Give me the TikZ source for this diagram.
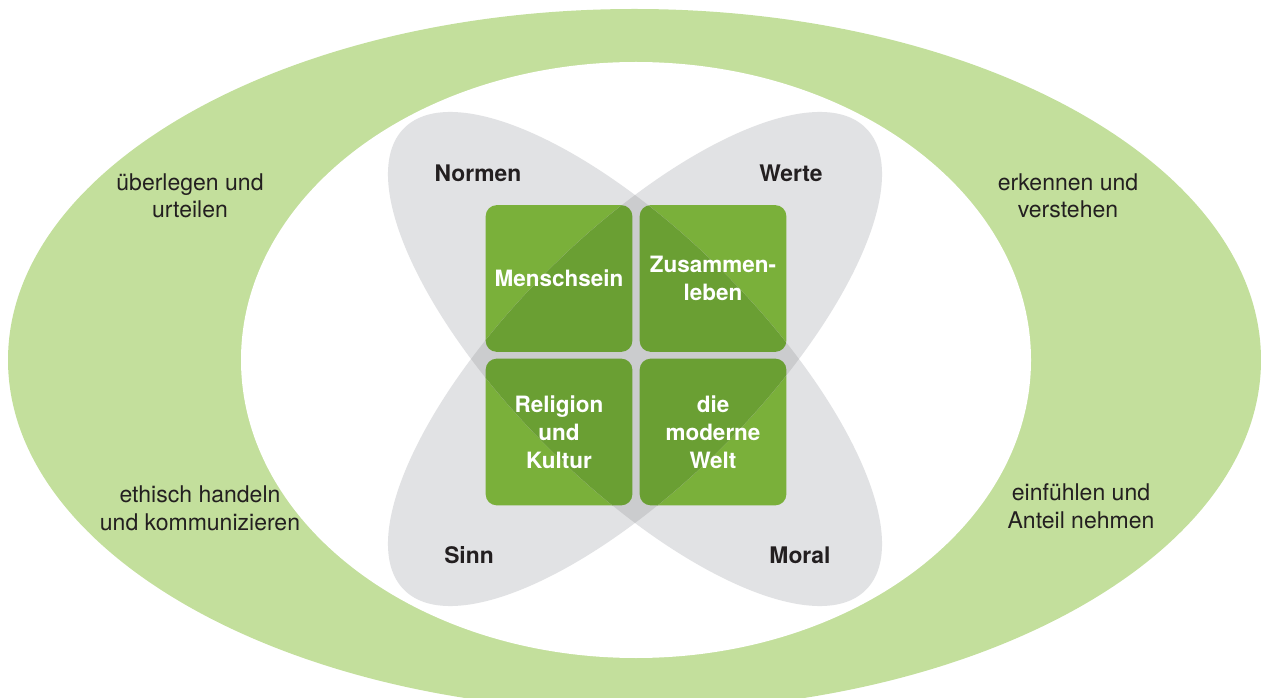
\documentclass[tikz,border=0pt]{standalone}
\usepackage{fontspec}
\setmainfont{TeX Gyre Heros}
\usetikzlibrary{backgrounds}
\definecolor{ringgreen}{RGB}{195,223,156}
\definecolor{lobegray}{RGB}{225,226,228}
\definecolor{lobedark}{RGB}{203,204,206}
\definecolor{boxlight}{RGB}{122,176,58}
\definecolor{boxdark}{RGB}{106,159,51}
\definecolor{ink}{RGB}{35,31,32}
\tikzset{
  ringtext/.style={align=center, anchor=base, text=ink, font=\fontsize{13.1}{15.4}\selectfont},
  lobetext/.style={anchor=base, text=ink, font=\bfseries\fontsize{13}{15.4}\selectfont},
  topic/.style={minimum size=2.92cm, inner sep=0, align=center, text=white, font=\bfseries\fontsize{12.8}{15.9}\selectfont},
  lobeA/.style={rotate around={-45:(mid)}},
  lobeB/.style={rotate around={45:(mid)}},
}
\begin{document}
\begin{tikzpicture}[x=0.02cm, y=0.02cm]
    \useasboundingbox (0,0) rectangle (1261,697);
    \coordinate (mid) at (635,338);
    \node[topic] (mensch) at (559,418.5) {Menschsein};
    \node[topic] (zusammen) at (713,418.5) {Zusammen-\\leben};
    \node[topic] (religion) at (559,265) {Religion\\und\\Kultur};
    \node[topic] (welt) at (713,265) {die\\moderne\\Welt};
    \node[lobetext] (normen) at (478,515) {Normen};
    \node[lobetext] (werte) at (791,515) {Werte};
    \node[lobetext] (sinn) at (469,134) {Sinn};
    \node[lobetext] (moral) at (800,134) {Moral};
    \node[ringtext] (urteilen) at (190,479) {überlegen und\\urteilen};
    \node[ringtext] (handeln) at (200,167) {ethisch handeln\\und kommunizieren};
    \node[ringtext] (verstehen) at (1068,479) {erkennen und\\verstehen};
    \node[ringtext] (einfuehlen) at (1081,169) {einfühlen und\\Anteil nehmen};
    \begin{pgfonlayer}{background}
        \fill[ringgreen] (634.5,337) ellipse [x radius=626.5, y radius=351];
        \fill[white] (636,337) ellipse [x radius=395, y radius=298];
        \fill[lobegray, lobeA] (mid) ellipse [x radius=326.5, y radius=124];
        \fill[lobegray, lobeB] (mid) ellipse [x radius=326.5, y radius=124];
        \foreach \n in {mensch,zusammen,religion,welt}
            \fill[boxlight, rounded corners=0.22cm] (\n.south west) rectangle (\n.north east);
        \begin{scope}
            \clip[lobeA] (mid) ellipse [x radius=326.5, y radius=124];
            \clip[lobeB] (mid) ellipse [x radius=326.5, y radius=124];
            \fill[lobedark] (0,0) rectangle (1261,697);
            \foreach \n in {mensch,zusammen,religion,welt}
                \fill[boxdark, rounded corners=0.22cm] (\n.south west) rectangle (\n.north east);
        \end{scope}
    \end{pgfonlayer}
\end{tikzpicture}
\end{document}
